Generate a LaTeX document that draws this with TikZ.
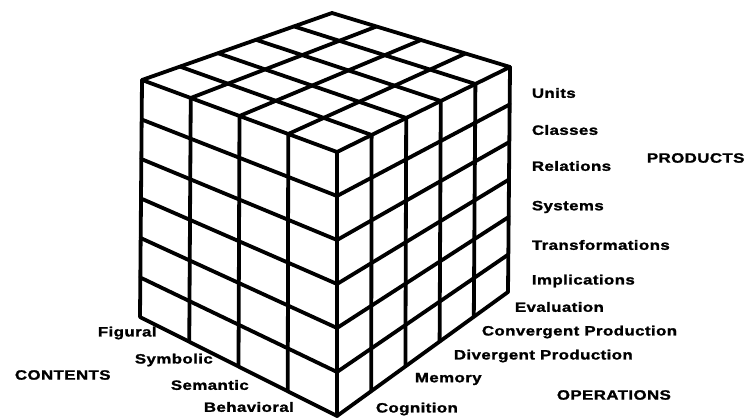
\documentclass[tikz,border=0pt]{standalone}
\usepackage{fontspec}
\setmainfont{Liberation Sans}
\newfontfamily\soifont[FakeStretch=1.25, LetterSpace=3, FakeBold=1.5]{Liberation Sans}
\usetikzlibrary{calc}

\begin{document}
\begin{tikzpicture}[x=1pt, y=-1pt, line width=3.8pt, line join=round, line cap=round,
    lbl/.style={anchor=west, inner sep=0pt, font=\soifont\bfseries\fontsize{13.5}{16}\selectfont}]
  \useasboundingbox (0,0) rectangle (749,419);
  % corners of the cube
  \coordinate (T) at (332,13);
  \coordinate (L) at (142,80);
  \coordinate (F) at (337,152);
  \coordinate (R) at (510,67);
  \coordinate (LB) at (140,317);
  \coordinate (FB) at (337,416);
  \coordinate (RB) at (508,292);

  % top face
  \draw (L) -- (F) -- (R) -- (T) -- cycle;
  \foreach \i in {1,2,3} \draw ($(L)!\i/4!(F)$) -- ($(T)!\i/4!(R)$);
  \foreach \j in {1,...,4} \draw ($(F)!\j/5!(R)$) -- ($(L)!\j/5!(T)$);
  % left face: contents
  \draw (L) -- (LB) -- (FB) -- (F);
  \foreach \i in {1,2,3} \draw ($(L)!\i/4!(F)$) -- ($(LB)!\i/4!(FB)$);
  \foreach \k in {1,...,5} \draw ($(L)!\k/6!(LB)$) -- ($(F)!\k/6!(FB)$);
  % right face: operations
  \draw (F) -- (FB) -- (RB) -- (R);
  \foreach \j in {1,...,4} \draw ($(F)!\j/5!(R)$) -- ($(FB)!\j/5!(RB)$);
  \foreach \k in {1,...,5} \draw ($(F)!\k/6!(FB)$) -- ($(R)!\k/6!(RB)$);

  % products
  \node[lbl] (units) at (530,93) {Units};
  \node[lbl] (classes) at (530,130) {Classes};
  \node[lbl] (relations) at (530,166) {Relations};
  \node[lbl] (systems) at (530,207) {Systems};
  \node[lbl] (transf) at (530,245) {Transformations};
  \node[lbl] (implic) at (530,281) {Implications};
  \node[lbl] (products) at (645,158) {PRODUCTS};
  % operations
  \node[lbl] (evaluation) at (513,307) {Evaluation};
  \node[lbl] (convergent) at (480,332) {Convergent Production};
  \node[lbl] (divergent) at (452,356) {Divergent Production};
  \node[lbl] (memory) at (413,379) {Memory};
  \node[lbl] (cognition) at (374,409) {Cognition};
  \node[lbl] (operations) at (555,395) {OPERATIONS};
  % contents
  \node[lbl] (figural) at (96,333) {Figural};
  \node[lbl] (symbolic) at (133,360) {Symbolic};
  \node[lbl] (semantic) at (169,385) {Semantic};
  \node[lbl] (behavioral) at (202,407) {Behavioral};
  \node[lbl] (contents) at (13,375) {CONTENTS};
\end{tikzpicture}
\end{document}
